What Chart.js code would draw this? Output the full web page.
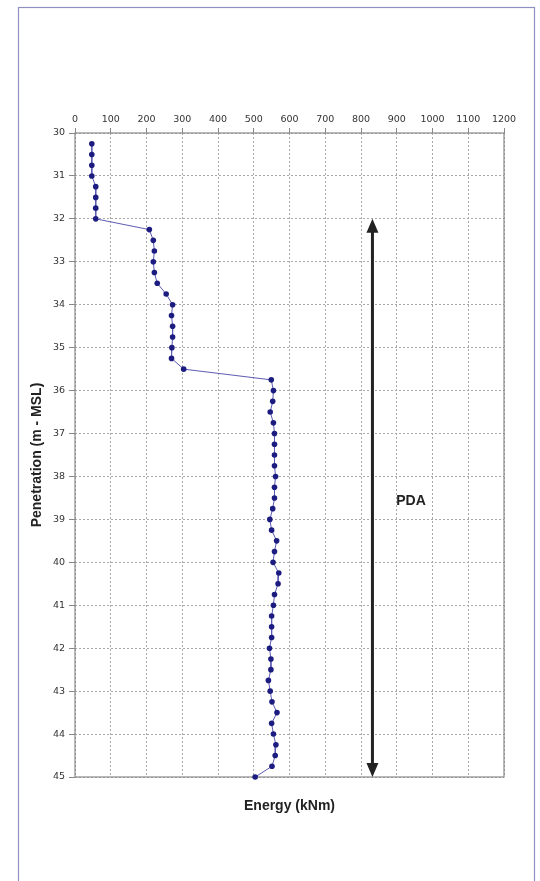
<!DOCTYPE html>
<html>
<head>
<meta charset="utf-8">
<style>
  html, body { margin: 0; padding: 0; background: #fff; }
  #wrap { position: relative; width: 540px; height: 881px; }
</style>
<script src="https://cdn.jsdelivr.net/npm/chart.js@4/dist/chart.umd.min.js"></script>
</head>
<body>
<div id="wrap"><canvas id="energyChart" width="540" height="881"></canvas></div>
<script>
// penetration depth (m - MSL), every 0.25 m
const depths = [30.25, 30.5, 30.75, 31, 31.25, 31.5, 31.75, 32,
  32.25, 32.5, 32.75, 33, 33.25, 33.5, 33.75, 34,
  34.25, 34.5, 34.75, 35, 35.25, 35.5, 35.75, 36,
  36.25, 36.5, 36.75, 37, 37.25, 37.5, 37.75, 38,
  38.25, 38.5, 38.75, 39, 39.25, 39.5, 39.75, 40,
  40.25, 40.5, 40.75, 41, 41.25, 41.5, 41.75, 42,
  42.25, 42.5, 42.75, 43, 43.25, 43.5, 43.75, 44,
  44.25, 44.5, 44.75, 45];
// energy (kNm)
const energy = [47, 47, 47, 47, 58, 58, 58, 58,
  208, 219, 222, 219, 222, 230, 255, 273,
  270, 273, 273, 271, 270, 304, 549, 555,
  553, 546, 555, 558, 558, 558, 558, 561,
  558, 558, 553, 545, 550, 564, 558, 554,
  570, 568, 558, 555, 550, 550, 550, 544,
  548, 548, 541, 546, 551, 565, 550, 555,
  562, 560, 551, 504];

const xTicks = [0, 100, 200, 300, 400, 500, 600, 700, 800, 900, 1000, 1100, 1200];
const yTicks = [30, 31, 32, 33, 34, 35, 36, 37, 38, 39, 40, 41, 42, 43, 44, 45];

// PDA range marker
const pdaEnergy = 832;
const pdaFrom = 32;
const pdaTo = 45;
const pdaLabel = 'PDA';

const points = depths.map((d, i) => ({ x: energy[i], y: d }));

// frame, plot border, titles and the PDA arrow
const extras = {
  id: 'extras',
  beforeDraw(chart) {
    const c = chart.ctx;
    c.save();
    c.fillStyle = '#fff';
    c.fillRect(0, 0, chart.width, chart.height);
    c.strokeStyle = '#8f8fc4';
    c.lineWidth = 1.2;
    c.strokeRect(18.5, 7.5, 516, 900);
    c.restore();
  },
  beforeDatasetsDraw(chart) {
    const c = chart.ctx;
    const a = chart.chartArea;
    c.save();
    c.strokeStyle = '#8a8a8a';
    c.lineWidth = 1.2;
    c.strokeRect(a.left, a.top, a.right - a.left, a.bottom - a.top);
    c.restore();
  },
  afterDatasetsDraw(chart) {
    const c = chart.ctx;
    const a = chart.chartArea;
    const xs = chart.scales.x, ys = chart.scales.y;
    c.save();
    // arrow
    const ax = xs.getPixelForValue(pdaEnergy);
    const y1 = ys.getPixelForValue(pdaFrom);
    const y2 = ys.getPixelForValue(pdaTo);
    c.strokeStyle = '#222';
    c.fillStyle = '#222';
    c.lineWidth = 3;
    c.beginPath();
    c.moveTo(ax, y1 + 10);
    c.lineTo(ax, y2 - 10);
    c.stroke();
    c.beginPath();
    c.moveTo(ax, y1);
    c.lineTo(ax - 6, y1 + 14);
    c.lineTo(ax + 6, y1 + 14);
    c.closePath();
    c.fill();
    c.beginPath();
    c.moveTo(ax, y2);
    c.lineTo(ax - 6, y2 - 14);
    c.lineTo(ax + 6, y2 - 14);
    c.closePath();
    c.fill();

    c.font = 'bold 14px "Liberation Sans", Arial, sans-serif';
    c.textAlign = 'center';
    c.textBaseline = 'middle';
    c.fillText(pdaLabel, xs.getPixelForValue(940), ys.getPixelForValue(38.58));

    // axis titles
    c.fillStyle = '#222';
    c.fillText('Energy (kNm)', (a.left + a.right) / 2, 806);
    c.translate(37, (a.top + a.bottom) / 2);
    c.rotate(-Math.PI / 2);
    c.fillText('Penetration (m - MSL)', 0, 0);
    c.restore();
  }
};

const tickFont = { family: '"DejaVu Sans", Verdana, sans-serif', size: 9.5 };

new Chart(document.getElementById('energyChart'), {
  type: 'scatter',
  data: {
    datasets: [{
      label: 'Energy',
      data: points,
      showLine: true,
      clip: false,
      borderColor: '#5c5cb4',
      borderWidth: 1,
      backgroundColor: '#1c1c80',
      pointBackgroundColor: '#1c1c80',
      pointBorderColor: '#1c1c80',
      pointRadius: 2.8,
      pointBorderWidth: 0,
      tension: 0
    }]
  },
  options: {
    responsive: false,
    animation: false,
    events: [],
    layout: { padding: { left: 0, top: 0, right: 36, bottom: 104 } },
    plugins: { legend: { display: false }, tooltip: { enabled: false } },
    scales: {
      x: {
        type: 'linear',
        position: 'top',
        min: 0,
        max: 1200,
        afterBuildTicks: s => { s.ticks = xTicks.map(v => ({ value: v })); },
        afterFit: s => { s.height = 133; },
        ticks: {
          color: '#333',
          font: tickFont,
          padding: 3,
          maxRotation: 0,
          autoSkip: false,
          callback: v => String(v)
        },
        grid: {
          color: '#a8a8a8',
          tickLength: 5,
          tickColor: '#888',
          tickBorderDash: []
        },
        border: { display: false, dash: [2, 2] }
      },
      y: {
        type: 'linear',
        reverse: true,
        min: 30,
        max: 45,
        afterBuildTicks: s => { s.ticks = yTicks.map(v => ({ value: v })); },
        afterFit: s => { s.width = 75; },
        ticks: {
          color: '#333',
          font: tickFont,
          padding: 4,
          autoSkip: false,
          callback: v => String(v)
        },
        grid: {
          color: '#a8a8a8',
          tickLength: 6,
          tickColor: '#888',
          tickBorderDash: []
        },
        border: { display: false, dash: [2, 2] }
      }
    }
  },
  plugins: [extras]
});
</script>
</body>
</html>
